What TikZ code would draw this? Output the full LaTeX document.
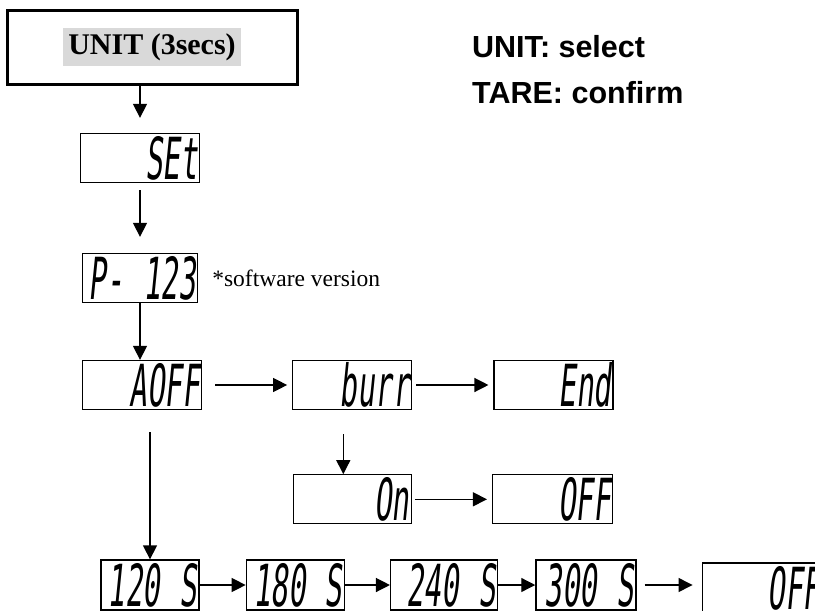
\documentclass[tikz,border=0pt]{standalone}
\usepackage{fontspec}
\setmainfont{Liberation Serif}
\newfontfamily\keyfont{Liberation Sans}
\newfontfamily\lcdfont[FakeStretch=0.5,FakeSlant=0.1]{DejaVu Sans Mono}
\usetikzlibrary{arrows.meta,positioning,calc}

\newcommand{\lcdsize}{\lcdfont\fontsize{58pt}{58pt}\selectfont}
\newcommand{\unitsize}{\bfseries\fontsize{30pt}{30pt}\selectfont}
\newcommand{\keysize}{\keyfont\bfseries\fontsize{30.5pt}{30.5pt}\selectfont}
\newcommand{\notesize}{\fontsize{23.5pt}{23.5pt}\selectfont}

\begin{document}
\begin{tikzpicture}[
    x=1pt, y=-1pt,
    lcd/.style={
        draw,
        line width=1.3pt,
        text width=#1,
        align=right,
        minimum height=49pt,
        inner xsep=2pt,
        inner ysep=0pt,
        font=\lcdsize
    },
    unitbox/.style={
        draw,
        line width=3pt,
        minimum width=290pt,
        minimum height=74pt,
        font=\unitsize
    },
    key/.style={
        anchor=base west,
        inner sep=0pt,
        font=\keysize
    },
    arrow/.style={
        -{Triangle[length=14pt,width=14pt]},
        line width=1.3pt
    }
]
\useasboundingbox (0,0) rectangle (815,611);
\clip (0,0) rectangle (815,611);

\node[unitbox] (unit) at (152,47) {\setlength{\fboxsep}{5pt}\colorbox{black!15}{UNIT (3secs)}};

\node[key] (keyunit) at (472,57) {UNIT: select};
\node[key] (keytare) at (472,103) {TARE: confirm};

\node[lcd=115pt] (set) at (140,158) {SEt};
\node[lcd=111pt] (p123) at (140,278) {P- 123};
\node[right=14pt of p123, inner sep=0pt, font=\notesize] (note) {*software version};

% main menu
\node[lcd=115pt] (aoff) at (142,385) {AOFF};
\node[lcd=115pt, right=90pt of aoff] (burr) {burr};
\node[lcd=115pt, right=81pt of burr] (end) {End};

% buzzer
\node[lcd=114pt, below=64pt of burr] (on) {On};
\node[lcd=116pt, right=80pt of on] (offa) {OFF};

% auto off times
\node[lcd=94pt, minimum height=50pt] (s120) at (150,585) {120 S};
\node[lcd=94pt, minimum height=50pt, right=46pt of s120] (s180) {180 S};
\node[lcd=103pt, minimum height=50pt, right=45pt of s180] (s240) {240 S};
\node[lcd=96pt, minimum height=50pt, right=37pt of s240] (s300) {300 S};
\node[lcd=116pt, minimum height=50pt, right=65pt of s300, yshift=-3pt] (offb) {OFF};

\draw[arrow] (unit.south -| set.north) -- ([yshift=15pt]set.north);
\draw[arrow] ([yshift=-7pt]set.south) -- ([yshift=16pt]p123.north);
\draw[arrow] (p123.south) -- (p123.south |- aoff.north);
\draw[arrow] ([xshift=13pt]aoff.east) -- ([xshift=-5pt]burr.west);
\draw[arrow] ([xshift=4pt]burr.east) -- ([xshift=-5pt]end.west);
\draw[arrow] ([xshift=-9pt,yshift=-24pt]burr.south) -- ([xshift=-9pt]on.north);
\draw[arrow] ([xshift=3pt]on.east) -- ([xshift=-5pt]offa.west);
\draw[arrow] ($(s120.north |- aoff.south)+(0,22)$) -- (s120.north);
\draw[arrow] (s120.east) -- (s180.west);
\draw[arrow] (s180.east) -- (s240.west);
\draw[arrow] (s240.east) -- (s300.west);
\draw[arrow] ([xshift=8pt]s300.east) -- ($(offb.west |- s300.east)+(-9,0)$);

\end{tikzpicture}
\end{document}
